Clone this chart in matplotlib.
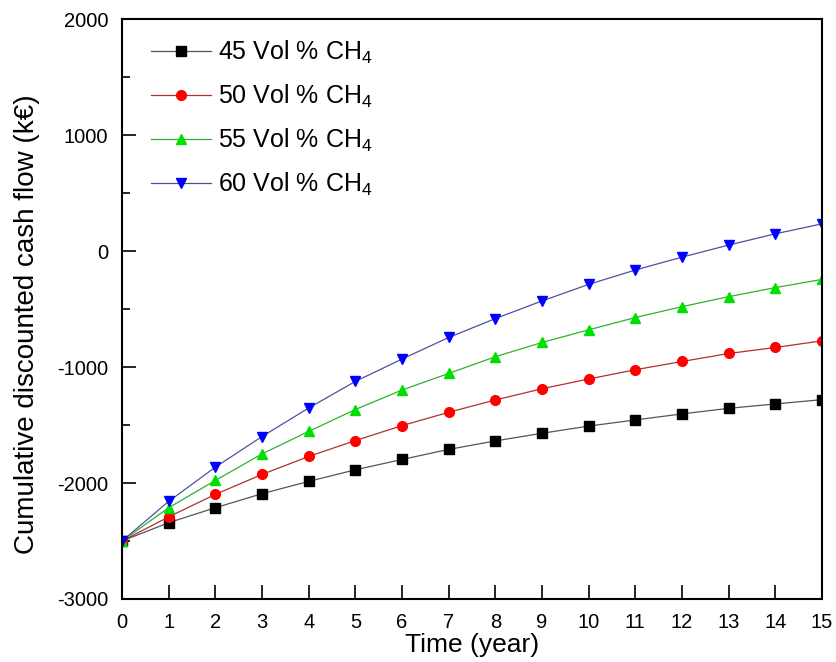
import matplotlib
matplotlib.use("Agg")
import matplotlib.pyplot as plt

plt.rcParams['font.family'] = ['Liberation Sans', 'DejaVu Sans']
plt.rcParams['mathtext.fontset'] = 'custom'
plt.rcParams['mathtext.rm'] = 'Liberation Sans'
plt.rcParams['mathtext.it'] = 'Liberation Sans:italic'
plt.rcParams['axes.unicode_minus'] = False

# data
years = list(range(16))
ch4_45 = [-2500, -2342, -2213, -2092, -1986, -1886, -1797, -1710, -1637, -1571,
          -1509, -1456, -1404, -1356, -1318, -1281]
ch4_50 = [-2500, -2292, -2098, -1926, -1771, -1634, -1505, -1390, -1284, -1187,
          -1103, -1023, -952, -883, -831, -774]
ch4_55 = [-2500, -2213, -1978, -1749, -1555, -1366, -1198, -1055, -911, -788,
          -679, -573, -479, -393, -315, -244]
ch4_60 = [-2500, -2158, -1863, -1599, -1353, -1124, -931, -745, -582, -430,
          -287, -163, -52, 52, 149, 235]

series = [
    (ch4_45, "45 Vol % CH$_4$", "black", "s", "#555555"),
    (ch4_50, "50 Vol % CH$_4$", "#ff0000", "o", "#b03030"),
    (ch4_55, "55 Vol % CH$_4$", "#00e000", "^", "#30b030"),
    (ch4_60, "60 Vol % CH$_4$", "#0000ff", "v", "#5050a0"),
]

fig = plt.figure(figsize=(8.37, 6.62), dpi=100)
ax = fig.add_axes([0.1458, 0.0952, 0.8362, 0.8758])

for vals, label, mcol, mk, lcol in series:
    ax.plot(years, vals, color=lcol, linewidth=0.9, marker=mk, markersize=7,
            markerfacecolor=mcol, markeredgecolor=mcol, label=label)

ax.set_xlim(0, 15)
ax.set_ylim(-3000, 2000)
ax.set_xticks(range(16))
ax.set_yticks(range(-3000, 2001, 1000))
ax.set_yticks(range(-2500, 2000, 1000), minor=True)
ax.tick_params(axis='both', which='major', direction='in', length=10, width=1.2,
               labelsize=14.5)
ax.tick_params(axis='x', which='major', pad=10)
ax.tick_params(axis='y', which='major', pad=10)
ax.tick_params(axis='y', which='minor', direction='in', length=6, width=1.2)
for s in ax.spines.values():
    s.set_linewidth(1.5)

ax.set_xlabel("Time (year)", fontsize=19, labelpad=1)
ax.set_ylabel("Cumulative discounted cash flow (k€)", fontsize=20)
ax.yaxis.set_label_coords(-0.117, 0.474)

ax.legend(loc='upper left', frameon=False, fontsize=18, handlelength=2.4,
          borderaxespad=0, labelspacing=0.68, handletextpad=0.3,
          bbox_to_anchor=(0.027, 0.984))

fig.savefig("out.png", dpi=100)
